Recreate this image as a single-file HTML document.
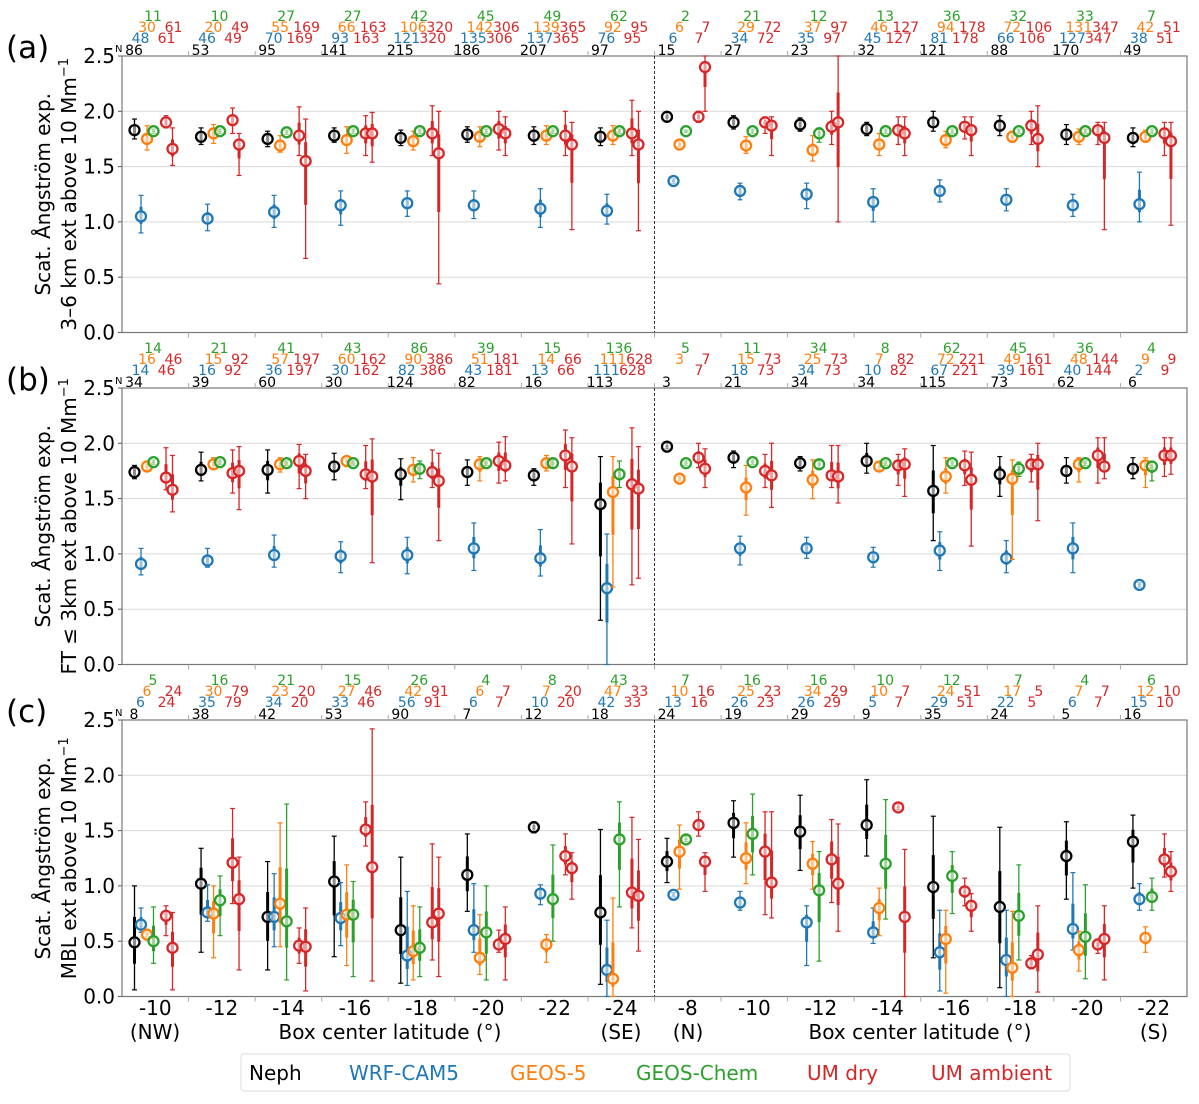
<!DOCTYPE html>
<html><head><meta charset="utf-8"><style>
body{margin:0;background:#fff}
svg{display:block;font-family:"DejaVu Sans","Liberation Sans",sans-serif}
</style></head><body>
<svg id="chart" width="1199" height="1104" viewBox="0 0 1199 1104" xmlns="http://www.w3.org/2000/svg"></svg>
<script>
const groupLabels = ["-10","-12","-14","-16","-18","-20","-22","-24","-8","-10","-12","-14","-16","-18","-20","-22"];
const yTicks = [0,0.5,1.0,1.5,2.0,2.5];
const seriesNames = ["Neph","WRF-CAM5","GEOS-5","GEOS-Chem","UM dry","UM ambient"];

// Panel (a) counts
const a_nG = [11,10,27,27,42,45,49,62,2,21,12,13,36,32,33,7];
const a_nO = [30,20,55,66,106,142,139,92,6,29,37,46,94,72,131,42];
const a_nR1 = [61,49,169,163,320,306,365,95,7,72,97,127,178,106,347,51];
const a_nB = [48,46,70,93,121,135,137,76,6,34,35,45,81,66,127,38];
const a_nR2 = [61,49,169,163,320,306,365,95,7,72,97,127,178,106,347,51];
const a_nN = [86,53,95,141,215,186,207,97,15,27,23,32,121,88,170,49];
// Panel (a) values
const a_neph = [1.83,1.77,1.75,1.78,1.76,1.79,1.78,1.77,1.95,1.90,1.88,1.84,1.90,1.87,1.79,1.76];
const a_neph_lo = [1.75,1.70,1.68,1.72,1.69,1.72,1.70,1.69,1.91,1.84,1.82,1.78,1.82,1.78,1.70,1.68];
const a_neph_hi = [1.93,1.85,1.82,1.85,1.83,1.86,1.86,1.85,1.99,1.96,1.94,1.90,2.00,1.96,1.88,1.85];
const a_wrf = [1.05,1.03,1.09,1.15,1.17,1.15,1.12,1.10,1.37,1.28,1.25,1.18,1.28,1.20,1.15,1.16];
const a_wrf_lo = [0.90,0.92,0.95,0.97,1.05,1.03,0.95,0.98,1.35,1.20,1.12,1.00,1.18,1.10,1.05,1.00];
const a_wrf_hi = [1.24,1.16,1.24,1.28,1.28,1.28,1.30,1.25,1.39,1.35,1.35,1.30,1.38,1.30,1.25,1.45];
const a_g5 = [1.75,1.80,1.69,1.74,1.73,1.77,1.78,1.78,1.70,1.69,1.65,1.70,1.74,1.77,1.77,1.77];
const a_g5_lo = [1.65,1.71,1.63,1.62,1.65,1.68,1.70,1.70,1.68,1.62,1.55,1.60,1.67,1.72,1.70,1.72];
const a_g5_hi = [1.87,1.88,1.78,1.86,1.82,1.86,1.87,1.87,1.73,1.77,1.78,1.80,1.82,1.82,1.84,1.83];
const a_gc = [1.82,1.82,1.81,1.82,1.82,1.82,1.82,1.82,1.82,1.82,1.80,1.82,1.82,1.82,1.82,1.82];
const a_gc_lo = [1.80,1.80,1.79,1.80,1.80,1.80,1.80,1.80,1.81,1.80,1.72,1.80,1.80,1.80,1.80,1.80];
const a_gc_hi = [1.84,1.84,1.83,1.84,1.84,1.84,1.84,1.84,1.83,1.84,1.85,1.84,1.84,1.84,1.84,1.84];
const a_umd = [1.90,1.92,1.78,1.80,1.80,1.84,1.78,1.80,1.95,1.90,1.86,1.83,1.86,1.87,1.83,1.80];
const a_umd_lo = [1.85,1.80,1.60,1.60,1.60,1.65,1.60,1.60,1.90,1.80,1.70,1.70,1.75,1.70,1.70,1.60];
const a_umd_hi = [1.96,2.03,2.04,1.96,2.05,2.00,2.00,2.10,2.00,1.95,2.00,1.95,1.95,2.00,1.90,1.90];
const a_uma = [1.66,1.70,1.55,1.80,1.62,1.80,1.70,1.70,2.40,1.87,1.90,1.80,1.83,1.75,1.76,1.73];
const a_uma_lo = [1.51,1.42,0.67,1.54,0.44,1.60,0.93,0.92,2.00,1.60,1.00,1.60,1.60,1.50,0.93,0.97];
const a_uma_hi = [1.85,1.80,1.93,1.99,2.00,1.95,1.90,2.00,2.50,1.95,2.50,1.95,1.95,2.05,1.90,1.90];

// Panel (b) counts
const b_nG = [14,21,41,43,86,39,15,136,5,11,34,8,62,45,36,4];
const b_nO = [16,15,57,60,90,51,14,111,3,15,25,7,72,49,48,9];
const b_nR1 = [46,92,197,162,386,181,66,628,7,73,73,82,221,161,144,9];
const b_nB = [14,16,36,30,82,43,13,111,null,18,34,10,67,39,40,2];
const b_nR2 = [46,92,197,162,386,181,66,628,7,73,73,82,221,161,144,9];
const b_nN = [34,39,60,30,124,82,16,113,3,21,34,34,115,73,62,6];
// Panel (b) values
const b_neph = [1.74,1.76,1.76,1.79,1.72,1.74,1.71,1.45,1.97,1.87,1.82,1.84,1.57,1.72,1.75,1.77];
const b_neph_lo = [1.68,1.66,1.55,1.67,1.49,1.62,1.62,0.40,1.95,1.78,1.75,1.73,1.12,1.52,1.64,1.68];
const b_neph_hi = [1.80,1.92,1.94,1.91,1.86,1.85,1.77,1.88,2.00,1.93,1.88,2.00,1.98,1.88,1.87,1.87];
const b_wrf = [0.91,0.94,0.99,0.98,0.99,1.05,0.96,0.69,null,1.05,1.05,0.97,1.03,0.96,1.05,0.72];
const b_wrf_lo = [0.81,0.88,0.88,0.83,0.82,0.85,0.80,0.00,null,0.90,0.96,0.88,0.85,0.83,0.83,0.70];
const b_wrf_hi = [1.05,1.05,1.17,1.11,1.15,1.28,1.22,1.18,null,1.16,1.15,1.06,1.20,1.12,1.28,0.74];
const b_g5 = [1.79,1.81,1.81,1.84,1.76,1.81,1.82,1.56,1.68,1.60,1.67,1.79,1.70,1.68,1.81,1.80];
const b_g5_lo = [1.76,1.77,1.74,1.79,1.65,1.66,1.75,0.70,1.66,1.35,1.50,1.76,1.55,0.95,1.65,1.60];
const b_g5_hi = [1.84,1.87,1.87,1.86,1.87,1.88,1.89,1.88,1.70,1.80,1.85,1.82,1.87,1.85,1.87,1.87];
const b_gc = [1.83,1.83,1.82,1.82,1.77,1.82,1.82,1.72,1.82,1.83,1.81,1.82,1.82,1.77,1.82,1.79];
const b_gc_lo = [1.81,1.81,1.80,1.80,1.68,1.80,1.78,1.60,1.80,1.81,1.78,1.80,1.80,1.70,1.80,1.66];
const b_gc_hi = [1.85,1.85,1.84,1.84,1.84,1.84,1.85,1.84,1.84,1.85,1.84,1.84,1.84,1.83,1.84,1.83];
const b_umd = [1.69,1.73,1.84,1.72,1.74,1.84,1.89,1.63,1.87,1.75,1.71,1.80,1.80,1.81,1.89,1.89];
const b_umd_lo = [1.58,1.55,1.59,1.59,1.60,1.64,1.60,0.72,1.78,1.60,1.60,1.62,1.62,1.65,1.64,1.70];
const b_umd_hi = [1.96,1.94,1.99,1.98,1.94,2.01,2.12,2.14,2.00,1.90,1.98,1.90,1.93,1.90,2.05,2.05];
const b_uma = [1.58,1.75,1.75,1.70,1.66,1.80,1.79,1.59,1.77,1.71,1.70,1.81,1.67,1.81,1.79,1.89];
const b_uma_lo = [1.38,1.40,1.50,0.92,1.12,1.66,1.09,0.78,1.60,1.42,1.46,1.52,1.07,1.30,1.68,1.72];
const b_uma_hi = [1.89,1.97,1.90,2.04,1.91,2.06,2.05,1.97,1.95,2.00,1.98,1.95,1.92,2.00,2.05,2.05];

// Panel (c) counts
const c_nG = [5,16,21,15,26,4,8,43,7,16,16,10,12,7,4,6];
const c_nO = [6,30,23,27,42,6,7,47,10,25,34,10,24,17,7,12];
const c_nR1 = [24,79,20,46,91,7,20,33,16,23,29,7,51,5,7,10];
const c_nB = [6,35,34,33,56,6,10,42,13,26,26,5,29,22,6,15];
const c_nR2 = [24,79,20,46,91,7,20,33,16,23,29,7,51,5,7,10];
const c_nN = [8,38,42,53,90,7,12,18,24,19,29,9,35,24,5,16];
// Panel (c) values
const c_neph = [0.49,1.02,0.72,1.04,0.60,1.10,1.53,0.76,1.22,1.57,1.49,1.55,0.99,0.81,1.27,1.40];
const c_neph_lo = [0.06,0.40,0.24,0.36,0.12,0.77,1.48,0.11,1.03,1.26,1.14,1.27,0.35,0.08,0.88,0.98];
const c_neph_hi = [1.00,1.34,1.22,1.45,1.26,1.47,1.58,1.51,1.43,1.77,1.82,1.96,1.63,1.53,1.58,1.64];
const c_wrf = [0.65,0.76,0.72,0.71,0.37,0.60,0.93,0.24,0.92,0.85,0.67,0.58,0.40,0.33,0.61,0.88];
const c_wrf_lo = [0.58,0.68,0.45,0.46,0.10,0.40,0.83,0.00,0.90,0.78,0.28,0.48,0.05,0.00,0.42,0.78];
const c_wrf_hi = [0.80,1.01,1.11,1.03,0.95,1.02,1.01,0.69,0.94,0.95,0.82,0.80,0.78,0.78,1.12,1.02];
const c_g5 = [0.56,0.75,0.84,0.74,0.41,0.35,0.47,0.16,1.31,1.25,1.20,0.80,0.52,0.26,0.42,0.53];
const c_g5_lo = [0.54,0.35,0.45,0.28,0.15,0.20,0.31,0.00,0.97,1.02,0.97,0.55,0.03,0.00,0.23,0.40];
const c_g5_hi = [0.58,1.00,1.57,1.19,0.82,0.74,0.56,0.89,1.55,1.57,1.40,0.98,0.78,0.77,0.59,0.63];
const c_gc = [0.50,0.87,0.68,0.74,0.44,0.58,0.88,1.42,1.42,1.47,0.96,1.20,1.09,0.73,0.54,0.90];
const c_gc_lo = [0.30,0.55,0.15,0.18,0.18,0.15,0.50,0.81,1.40,1.10,0.32,0.70,0.75,0.33,0.16,0.78];
const c_gc_hi = [0.81,1.09,1.74,1.04,0.81,1.00,1.37,1.76,1.45,1.83,1.31,1.78,1.31,1.19,1.01,1.07];
const c_umd = [0.73,1.21,0.46,1.51,0.67,0.47,1.27,0.94,1.55,1.31,1.24,1.71,0.95,0.30,0.47,1.24];
const c_umd_lo = [0.55,0.84,0.30,1.36,0.33,0.40,1.10,0.62,1.45,0.74,0.85,1.69,0.82,0.25,0.39,1.08];
const c_umd_hi = [0.82,1.70,0.62,1.76,1.38,0.60,1.47,1.62,1.67,1.67,1.60,1.74,1.07,0.37,0.52,1.47];
const c_uma = [0.44,0.88,0.45,1.17,0.75,0.52,1.16,0.91,1.22,1.03,1.02,0.72,0.82,0.38,0.52,1.13];
const c_uma_lo = [0.06,0.24,0.05,0.14,0.18,0.15,0.88,0.41,0.95,0.71,0.59,0.00,0.59,0.04,0.15,0.95];
const c_uma_hi = [0.76,1.26,0.80,2.42,1.26,0.81,1.30,1.42,1.30,1.67,1.56,1.33,0.93,0.82,0.82,1.31];

const colors = ["#000000","#1f77b4","#ff7f0e","#2ca02c","#d62728","#d62728"];
const offsets = [12.5,19,25,31.5,44,50.5];
const X0 = 122, X1 = 1187, GW = (X1 - X0) / 16;
const panels = [
  {id:"a", top:56, lbl:"(a)", t2:"3–6 km ext above 10 Mm", counts:[a_nG,a_nO,a_nR1,a_nB,a_nR2,a_nN],
   s:[[a_neph,a_neph_lo,a_neph_hi],[a_wrf,a_wrf_lo,a_wrf_hi],[a_g5,a_g5_lo,a_g5_hi],[a_gc,a_gc_lo,a_gc_hi],[a_umd,a_umd_lo,a_umd_hi],[a_uma,a_uma_lo,a_uma_hi]]},
  {id:"b", top:388, lbl:"(b)", t2:"FT ≤ 3km ext above 10 Mm", counts:[b_nG,b_nO,b_nR1,b_nB,b_nR2,b_nN],
   s:[[b_neph,b_neph_lo,b_neph_hi],[b_wrf,b_wrf_lo,b_wrf_hi],[b_g5,b_g5_lo,b_g5_hi],[b_gc,b_gc_lo,b_gc_hi],[b_umd,b_umd_lo,b_umd_hi],[b_uma,b_uma_lo,b_uma_hi]]},
  {id:"c", top:720, lbl:"(c)", t2:"MBL ext above 10 Mm", counts:[c_nG,c_nO,c_nR1,c_nB,c_nR2,c_nN],
   s:[[c_neph,c_neph_lo,c_neph_hi],[c_wrf,c_wrf_lo,c_wrf_hi],[c_g5,c_g5_lo,c_g5_hi],[c_gc,c_gc_lo,c_gc_hi],[c_umd,c_umd_lo,c_umd_hi],[c_uma,c_uma_lo,c_uma_hi]]}
];
const PH = 276.5;
const NS = "http://www.w3.org/2000/svg";
const svg = document.getElementById("chart");
function mk(tag, attrs, parent, text){
  const e = document.createElementNS(NS, tag);
  for (const k in attrs) e.setAttribute(k, attrs[k]);
  if (text !== undefined) e.textContent = text;
  (parent || svg).appendChild(e);
  return e;
}
function xScale(g, si){ return X0 + g * GW + offsets[si]; }

panels.forEach(p => {
  const yS = v => p.top + PH - (v / 2.5) * PH;
  const grp = mk("g", {});
  
  
  yTicks.forEach(t => {
    if (t > 0 && t < 2.5) {
      const gl = mk("line", {x1:X0, x2:X1, y1:yS(t), y2:yS(t), stroke:"#d9d9d9", "stroke-width":1}, grp);
      
      
    }
    const tl = mk("text", {x:115, y:yS(t) + 7, "text-anchor":"end", "font-size":20, fill:"#000"}, grp, t.toFixed(1));
    
    
    mk("line", {x1:X0 - 4, x2:X0, y1:yS(t), y2:yS(t), stroke:"#555"}, grp);
  });
  const fr = mk("rect", {x:X0, y:p.top, width:X1 - X0, height:PH, fill:"none", stroke:"#777", "stroke-width":1.2}, grp);
  
  
  const dl = mk("line", {x1:(X0 + X1) / 2, x2:(X0 + X1) / 2, y1:p.top, y2:p.top + PH, stroke:"#333", "stroke-width":1, "stroke-dasharray":"3,2"}, grp);
  
  
  for (let g = 1; g < 16; g++) {
    const tx = X0 + g * GW;
    mk("line", {x1:tx, x2:tx, y1:p.top - 5, y2:p.top, stroke:"#aaa"}, grp);
    mk("line", {x1:tx, x2:tx, y1:p.top + PH, y2:p.top + PH + 5, stroke:"#aaa"}, grp);
  }
  const pl = mk("text", {x:6, y:p.top + 2, "font-size":31, fill:"#000"}, grp, p.lbl);
  
  
  const cy = p.top + PH / 2;
  const yt = mk("text", {transform:`translate(50,${cy}) rotate(-90)`, "text-anchor":"middle", "font-size":20, fill:"#000"}, grp, "Scat. Ångström exp.");
  
  
  const yt2 = mk("text", {transform:`translate(76,${cy}) rotate(-90)`, "text-anchor":"middle", "font-size":20, fill:"#000"}, grp);
  
  
  yt2.textContent = p.t2;
  mk("tspan", {dy:-8, "font-size":13}, yt2, "−1");
  const nl = mk("text", {x:X0 - 7, y:p.top - 4, "font-size":10, fill:"#000"}, grp, "N");
  
  
  const [cG, cO, cR1, cB, cR2, cN] = p.counts;
  for (let g = 0; g < 16; g++) {
    const gx = X0 + g * GW;
    const rows = [
      [cG[g], gx + 31, p.top - 35, "#2ca02c"],
      [cO[g], gx + 25, p.top - 24, "#ff7f0e"],
      [cR1[g], gx + 51.5, p.top - 24, "#d62728"],
      [cB[g], gx + 18.5, p.top - 13, "#1f77b4"],
      [cR2[g], gx + 44.5, p.top - 13, "#d62728"],
      [cN[g], gx + 12, p.top - 1, "#000"]
    ];
    rows.forEach(r => {
      if (r[0] === null) return;
      const ct = mk("text", {x:r[1], y:r[2], "text-anchor":"middle", "font-size":14, fill:r[3]}, grp, String(r[0]));
      
      
    });
  }
  p.s.forEach((ser, si) => {
    const [m, lo, hi] = ser;
    const col = colors[si];
    for (let g = 0; g < 16; g++) {
      if (m[g] === null) continue;
      const x = xScale(g, si);
      const yl = yS(lo[g]), yh = yS(hi[g]), ym = yS(m[g]);
      const q1 = yS(m[g] - (m[g] - lo[g]) * 0.45), q3 = yS(m[g] + (hi[g] - m[g]) * 0.45);
      const w = mk("line", {x1:x, x2:x, y1:yl, y2:yh, stroke:col, "stroke-width":1.3}, grp);
      
      
      mk("line", {x1:x - 2.5, x2:x + 2.5, y1:yl, y2:yl, stroke:col, "stroke-width":1.2}, grp);
      mk("line", {x1:x - 2.5, x2:x + 2.5, y1:yh, y2:yh, stroke:col, "stroke-width":1.2}, grp);
      mk("line", {x1:x, x2:x, y1:q1, y2:q3, stroke:col, "stroke-width":3}, grp);
      const c = mk("circle", {cx:x, cy:ym, r:5, fill:"#fff", "fill-opacity":0.55, stroke:col, "stroke-width":2.3}, grp);
      
      
    }
  });
});
groupLabels.forEach((l, g) => {
  const t = mk("text", {x:X0 + g * GW + GW / 2, y:1015, "text-anchor":"middle", "font-size":20, fill:"#000"}, svg, l);
  
  
});
[["(NW)",155],["(SE)",621],["(N)",688],["(S)",1154]].forEach(d => {
  const t = mk("text", {x:d[1], y:1039, "text-anchor":"middle", "font-size":20, fill:"#000"}, svg, d[0]);
  
  
});
[390, 920].forEach(x => {
  const t = mk("text", {x:x, y:1039, "text-anchor":"middle", "font-size":20, fill:"#000"}, svg, "Box center latitude (°)");
  
  
});
const lg = mk("g", {});


mk("rect", {x:241, y:1054, width:829, height:37, rx:3, fill:"#fff", stroke:"#ddd", "stroke-width":1}, lg);
const legX = [249, 349, 510, 636, 807, 931];
seriesNames.forEach((n, i) => {
  const t = mk("text", {x:legX[i], y:1080, "font-size":20, fill:colors[i]}, lg, n);
  
  
});
</script>
</body></html>
